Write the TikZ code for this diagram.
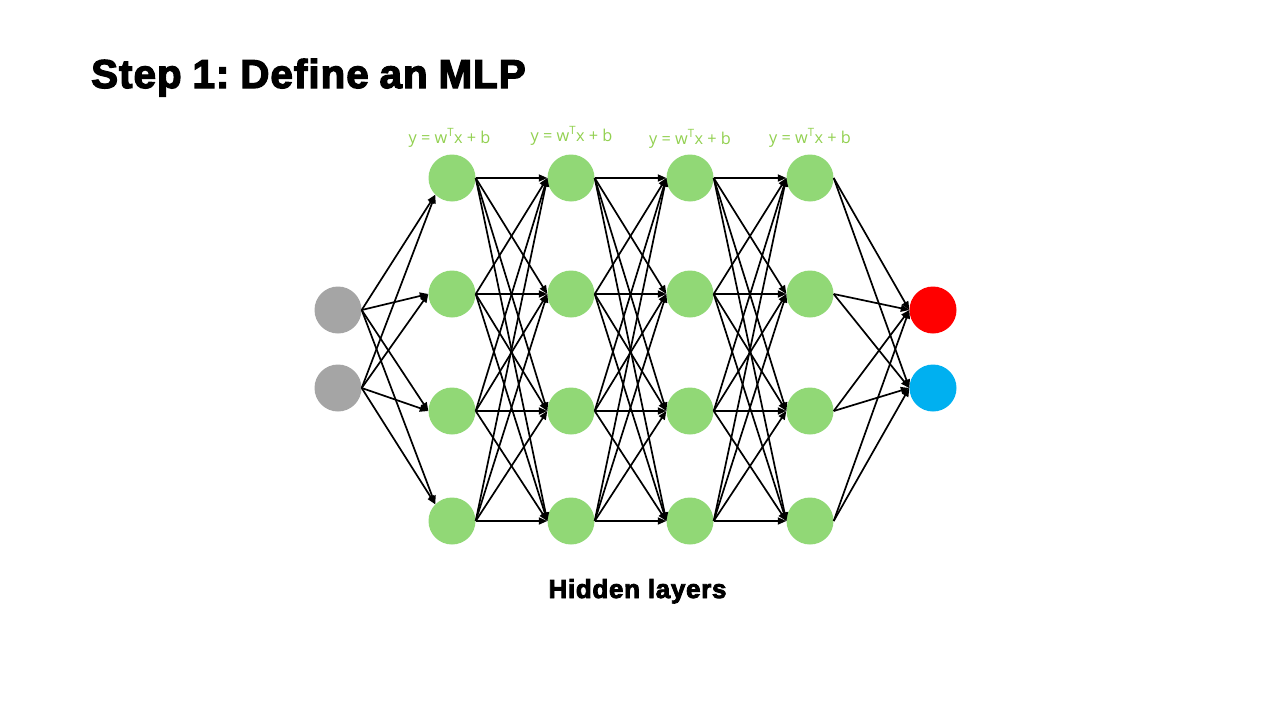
\documentclass[tikz,border=0pt]{standalone}
\usepackage{fontspec}
\setmainfont{Liberation Sans}
\newfontfamily\heavyfont[BoldFont={Liberation Sans Bold},BoldFeatures={FakeBold=3.2,LetterSpace=2.6}]{Liberation Sans}
\newfontfamily\labelfont{Open Sans}
\usetikzlibrary{arrows.meta}

\definecolor{hidgreen}{RGB}{145,216,118}
\definecolor{eqgreen}{RGB}{146,208,80}
\definecolor{ingray}{RGB}{165,165,165}
\definecolor{outred}{RGB}{255,0,0}
\definecolor{outblue}{RGB}{0,176,240}

\tikzset{
  neuron/.style={circle, draw=none, minimum size=47pt, inner sep=0pt},
  hidden/.style={neuron, fill=hidgreen},
  inputn/.style={neuron, fill=ingray},
  link/.style={line width=1.7pt, black, -{Triangle[length=8.5pt,width=7pt]}},
  eqlabel/.style={font=\labelfont\fontsize{16.3}{18}\selectfont, text=eqgreen, inner sep=0pt},
}

\begin{document}
\begin{tikzpicture}[x=1pt,y=-1pt]
\useasboundingbox (0,0) rectangle (1280,720);

% title
\node[anchor=base west, inner sep=0pt, font=\heavyfont\bfseries\fontsize{40.3}{46}\selectfont] (title) at (91,88) {Step\hspace{0.27em}1:\hspace{0.27em}Define\hspace{0.27em}an\hspace{0.27em}MLP};

% input layer
\node[inputn] (i1) at (338,310) {};
\node[inputn] (i2) at (338,388) {};

% hidden layers
\foreach \c/\x in {1/452,2/571,3/690,4/810}{
  \foreach \r/\y in {1/178,2/294,3/411,4/521}{
    \node[hidden] (h\c-\r) at (\x,\y) {};
  }
}

% output layer
\node[neuron, fill=outred] (o1) at (933,310) {};
\node[neuron, fill=outblue] (o2) at (933,388) {};

% affine map labels above each hidden layer
\node[eqlabel] (eq1) at (449.5,138) {y = w\textsuperscript{T}x + b};
\node[eqlabel] (eq2) at (571.5,136) {y = w\textsuperscript{T}x + b};
\node[eqlabel] (eq3) at (690,139) {y = w\textsuperscript{T}x + b};
\node[eqlabel] (eq4) at (810,138) {y = w\textsuperscript{T}x + b};

% input -> first hidden layer
\foreach \s in {1,2}{
  \draw[link] (i\s.east) -- (h1-1.225);
  \draw[link] (i\s.east) -- (h1-2.west);
  \draw[link] (i\s.east) -- (h1-3.west);
  \draw[link] (i\s.east) -- (h1-4.135);
}

% hidden -> hidden, fully connected
\foreach \c/\n in {1/2,2/3,3/4}{
  \foreach \s in {1,...,4}{
    \foreach \t in {1,...,4}{
      \draw[link] (h\c-\s.east) -- (h\n-\t.west);
    }
  }
}

% last hidden layer -> output
\foreach \s in {1,...,4}{
  \foreach \t in {1,2}{
    \draw[link] (h4-\s.east) -- (o\t.west);
  }
}

% caption
\node[anchor=base, inner sep=0pt, font=\heavyfont\bfseries\fontsize{26}{30}\selectfont] (caption) at (637.5,598) {Hidden layers};
\end{tikzpicture}
\end{document}
